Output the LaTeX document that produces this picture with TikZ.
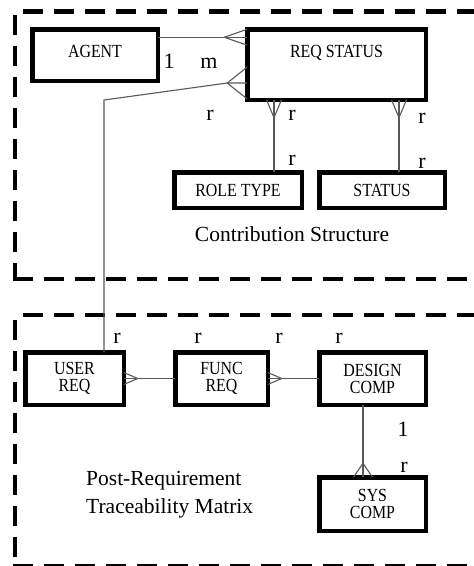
\documentclass[tikz,border=0pt]{standalone}
\usepackage{fontspec}
\setmainfont{Liberation Serif}
\newfontfamily\boxfont{Liberation Serif}[FakeStretch=0.86]
\usetikzlibrary{calc}
\begin{document}
\begin{tikzpicture}[x=1pt,y=-1pt,
  box/.style={draw, line width=4.5pt, rectangle, inner sep=0pt, outer sep=0pt,
    font=\boxfont\fontsize{18.5}{17}\selectfont, align=center},
  conn/.style={draw=black!65, line width=1.1pt},
  card/.style={font=\fontsize{22}{24}\selectfont, anchor=base, inner sep=0pt},
  caption/.style={font=\fontsize{21.5}{28}\selectfont, inner sep=0pt},
  region/.style={draw, line width=4.7pt, dash pattern=on 20pt off 11pt}]
\useasboundingbox (0,0) rectangle (474,566);
\clip (0,0) rectangle (474,566);

% dashed regions
\draw[region] (23,11.7) -- (490,11.7);
\draw[region] (15,15) -- (15,279);
\draw[region] (13,279) -- (490,279);
\draw[region] (23,315) -- (490,315);
\draw[region] (15,320) -- (15,566);
\draw[region] (13,566) -- (490,566);

% entity boxes
\node[box, minimum width=125.5pt, minimum height=51.5pt, text depth=8.2pt] (agent) at (95,55) {AGENT};
\node[box, minimum width=178.5pt, minimum height=70.5pt, text depth=27.2pt] (reqstatus) at (336.5,64.5) {REQ STATUS};
\node[box, minimum width=127.5pt, minimum height=35.5pt] (roletype) at (238,190) {ROLE TYPE};
\node[box, minimum width=125.5pt, minimum height=35.5pt] (status) at (382,190) {STATUS};
\node[box, minimum width=98.5pt, minimum height=52.5pt] (userreq) at (74.5,378.5) {USER\\REQ};
\node[box, minimum width=92.5pt, minimum height=52.5pt] (funcreq) at (221.5,378.5) {FUNC\\REQ};
\node[box, minimum width=106.5pt, minimum height=52.5pt] (designcomp) at (372.5,378.5) {DESIGN\\COMP};
\node[box, minimum width=106.5pt, minimum height=53.5pt] (syscomp) at (372.5,504) {SYS\\COMP};

% AGENT -- REQ STATUS
\coordinate (a1) at ([yshift=-8pt]agent.north east);
\coordinate (a2) at (a1 -| reqstatus.west);
\coordinate (a3) at ($(a2)+(-23,0)$);
\draw[conn] (a1) -- (a2);
\draw[conn] ($(a2)+(0,-8)$) -- (a3) -- ($(a2)+(0,8)$);

% USER REQ -- REQ STATUS
\coordinate (b0) at ([xshift=29.5pt]userreq.north);
\coordinate (knee) at (104,100);
\coordinate (b3) at ([yshift=-18.5pt]reqstatus.west);
\coordinate (b2) at ($(b3)+(-20,0)$);
\draw[conn] (b0) -- (b0 |- knee) -- (b2) -- (b3);
\draw[conn] ($(b3)+(0,-16)$) -- (b2) -- ($(b3)+(0,16)$);

% ROLE TYPE -- REQ STATUS
\coordinate (c0) at ([xshift=36pt]roletype.north);
\coordinate (c1) at (c0 |- reqstatus.south);
\coordinate (c2) at ($(c1)+(0,18)$);
\draw[conn] (c0) -- (c1);
\draw[conn] ($(c1)+(-7.5,0)$) -- (c2) -- ($(c1)+(7.5,0)$);

% STATUS -- REQ STATUS
\coordinate (e0) at ([xshift=17pt]status.north);
\coordinate (e1) at (e0 |- reqstatus.south);
\coordinate (e2) at ($(e1)+(0,18)$);
\draw[conn] (e0) -- (e1);
\draw[conn] ($(e1)+(-7.5,0)$) -- (e2) -- ($(e1)+(7.5,0)$);

% USER REQ -- FUNC REQ
\coordinate (f1) at ($(userreq.east)+(14,0)$);
\draw[conn] (userreq.east) -- (funcreq.west);
\draw[conn] ($(userreq.east)+(0,-6)$) -- (f1) -- ($(userreq.east)+(0,6)$);

% FUNC REQ -- DESIGN COMP
\coordinate (g1) at ($(funcreq.east)+(14,0)$);
\draw[conn] (funcreq.east) -- (designcomp.west);
\draw[conn] ($(funcreq.east)+(0,-6)$) -- (g1) -- ($(funcreq.east)+(0,6)$);

% DESIGN COMP -- SYS COMP
\coordinate (d0) at ([xshift=-9.5pt]designcomp.south);
\coordinate (d1) at (d0 |- syscomp.north);
\coordinate (d2) at ($(d1)+(0,-14)$);
\draw[conn] (d0) -- (d1);
\draw[conn] ($(d1)+(-9.5,0)$) -- (d2) -- ($(d1)+(9.5,0)$);

% cardinalities
\node[card] (l1) at (169,68) {1};
\node[card] (l2) at (209,68) {m};
\node[card] (l3) at (210,120) {r};
\node[card] (l4) at (292,120) {r};
\node[card] (l5) at (292,165) {r};
\node[card] (l6) at (422,123) {r};
\node[card] (l7) at (422,168) {r};
\node[card] (l8) at (117,343) {r};
\node[card] (l9) at (198,343) {r};
\node[card] (l10) at (279,343) {r};
\node[card] (l11) at (339,343) {r};
\node[card] (l12) at (403,436) {1};
\node[card] (l13) at (404,472) {r};

% captions
\node[caption, anchor=base] (cap1) at (292,241) {Contribution Structure};
\node[caption, anchor=base west] (cap2) at (86,485) {Post-Requirement};
\node[caption, anchor=base west] (cap3) at (86,513) {Traceability Matrix};
\end{tikzpicture}
\end{document}
